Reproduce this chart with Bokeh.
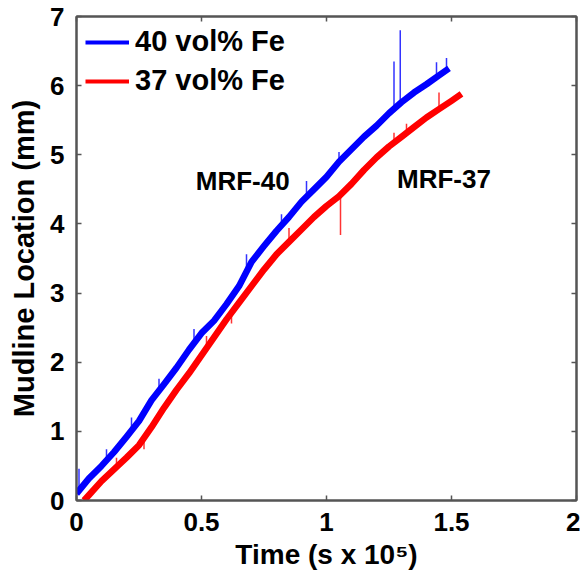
import math
from bokeh.plotting import figure
from bokeh.models import Range1d, LinearAxis, FixedTicker, Legend, LegendItem
from bokeh.core.properties import value
from bokeh.embed import file_html
from bokeh.resources import INLINE

# ---- data ----
blue_t = [0.00, 0.05, 0.10, 0.15, 0.20, 0.25, 0.30, 0.35, 0.40, 0.45, 0.50, 0.55,
          0.60, 0.65, 0.70, 0.75, 0.80, 0.85, 0.90, 0.95, 1.00, 1.05, 1.10, 1.15,
          1.20, 1.25, 1.30, 1.35, 1.40, 1.45, 1.49]
blue_y = [0.10, 0.32, 0.50, 0.70, 0.92, 1.15, 1.45, 1.68, 1.92, 2.18, 2.42, 2.60,
          2.84, 3.10, 3.45, 3.68, 3.90, 4.10, 4.32, 4.50, 4.68, 4.90, 5.08, 5.26,
          5.42, 5.60, 5.76, 5.90, 6.02, 6.15, 6.25]

red_t = [0.03, 0.05, 0.10, 0.15, 0.20, 0.25, 0.30, 0.35, 0.40, 0.45, 0.50, 0.55,
         0.60, 0.65, 0.70, 0.75, 0.80, 0.85, 0.90, 0.95, 1.00, 1.05, 1.10, 1.15,
         1.20, 1.25, 1.30, 1.35, 1.40, 1.45, 1.50, 1.54]
red_y = [0.00, 0.08, 0.28, 0.45, 0.62, 0.80, 1.06, 1.34, 1.60, 1.84, 2.10, 2.36,
         2.62, 2.86, 3.10, 3.34, 3.56, 3.74, 3.92, 4.10, 4.26, 4.40, 4.58, 4.78,
         4.96, 5.12, 5.26, 5.40, 5.54, 5.66, 5.78, 5.88]

# outlier spikes in the raw signals (time, trace value, spike tip)
blue_spike_t = [0.01, 0.12, 0.22, 0.33, 0.47, 0.68, 0.82, 0.92, 1.05, 1.27, 1.295, 1.44, 1.48]
blue_spike_base = [0.12, 0.55, 1.02, 1.58, 2.28, 3.35, 3.97, 4.36, 4.90, 5.70, 5.75, 6.12, 6.22]
blue_spike_tip = [0.46, 0.74, 1.20, 1.76, 2.48, 3.56, 4.14, 4.62, 5.04, 6.35, 6.80, 6.34, 6.40]
red_spike_t = [0.16, 0.27, 0.52, 0.62, 0.85, 1.056, 1.27, 1.32, 1.45]
red_spike_base = [0.48, 0.88, 2.20, 2.72, 3.74, 4.45, 5.18, 5.31, 5.66]
red_spike_tip = [0.62, 0.74, 2.38, 2.56, 3.94, 3.84, 5.32, 5.45, 5.90]

series_names = ["40 vol% Fe", "37 vol% Fe"]
x_ticks = [0, 0.5, 1, 1.5, 2]
y_ticks = [0, 1, 2, 3, 4, 5, 6, 7]

BLUE = "#0000ff"
RED = "#ff0000"
FRAME = "#555555"
FONT = "Liberation Sans"

p = figure(width=580, height=575, output_backend="svg", toolbar_location=None,
           x_range=Range1d(0, 2), y_range=Range1d(0, 7),
           min_border_left=76, min_border_right=4, min_border_top=16, min_border_bottom=75)
p.grid.visible = False
p.outline_line_color = FRAME
p.outline_line_width = 2
p.background_fill_color = "white"
p.border_fill_color = "white"

# main traces
p.line(blue_t, blue_y, line_color=BLUE, line_width=6.5, line_join="round")
p.line(red_t, red_y, line_color=RED, line_width=6.5, line_join="round")
p.segment(blue_spike_t, blue_spike_base, blue_spike_t, blue_spike_tip, line_color=BLUE, line_width=1.5, line_alpha=0.8)
p.segment(red_spike_t, red_spike_base, red_spike_t, red_spike_tip, line_color=RED, line_width=1.5, line_alpha=0.8)

# legend proxies
lb = p.line([math.nan], [math.nan], line_color=BLUE, line_width=4)
lr = p.line([math.nan], [math.nan], line_color=RED, line_width=4)
legend = Legend(items=[LegendItem(label=series_names[0], renderers=[lb]),
                       LegendItem(label=series_names[1], renderers=[lr])],
                location="top_left", margin=0, padding=9, spacing=6,
                glyph_width=44, glyph_height=30, label_height=30, label_standoff=6,
                label_text_font=FONT, label_text_font_style="bold",
                label_text_font_size="29px", label_text_color="black",
                background_fill_alpha=0, border_line_alpha=0)
p.add_layout(legend)

# axes
def style_axis(ax, labels=True):
    ax.axis_line_color = FRAME
    ax.axis_line_width = 2
    ax.major_tick_line_color = FRAME
    ax.major_tick_line_width = 1.5
    ax.major_tick_in = 5
    ax.major_tick_out = 0
    ax.minor_tick_line_color = None
    ax.major_label_text_font = FONT
    ax.major_label_text_font_style = "bold"
    ax.major_label_text_color = "black"
    if labels:
        ax.major_label_text_font_size = "26px"
    else:
        ax.major_label_text_font_size = "0px"
        ax.major_label_text_color = None
        ax.major_label_standoff = 0

xa = p.xaxis[0]
ya = p.yaxis[0]
xa.ticker = FixedTicker(ticks=x_ticks)
ya.ticker = FixedTicker(ticks=y_ticks)
style_axis(xa)
style_axis(ya)
xa.major_label_standoff = 12
ya.major_label_standoff = 12
xa.axis_label = "Time (s x 10\u2075)"
ya.axis_label = "Mudline Location (mm)"
for ax in (xa, ya):
    ax.axis_label_text_font = FONT
    ax.axis_label_text_font_style = "bold"
    ax.axis_label_text_color = "black"
xa.axis_label_text_font_size = "28px"
ya.axis_label_text_font_size = "29px"
xa.axis_label_standoff = 5
ya.axis_label_standoff = 7

top = LinearAxis(ticker=FixedTicker(ticks=x_ticks))
right = LinearAxis(ticker=FixedTicker(ticks=y_ticks))
style_axis(top, labels=False)
style_axis(right, labels=False)
p.add_layout(top, "above")
p.add_layout(right, "right")

# annotations
p.text(x=[0.665], y=[4.62], text=["MRF-40"], text_font=value(FONT), text_font_style="bold",
       text_font_size="26px", text_align="center", text_baseline="middle", text_color="black")
p.text(x=[1.47], y=[4.65], text=["MRF-37"], text_font=value(FONT), text_font_style="bold",
       text_font_size="26px", text_align="center", text_baseline="middle", text_color="black")

open("out.html", "w").write(file_html(p, INLINE))
